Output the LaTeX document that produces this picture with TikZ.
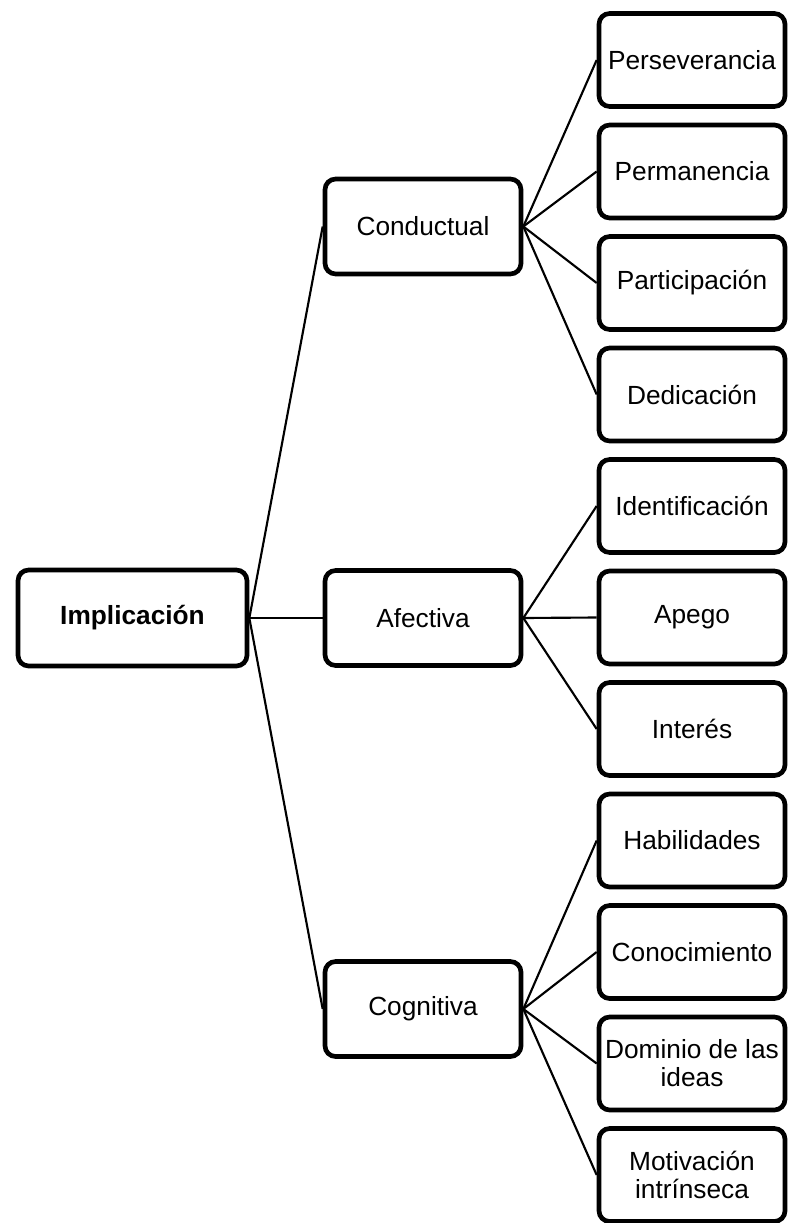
\documentclass[tikz,border=0pt]{standalone}
\usepackage{fontspec}
\setmainfont{Liberation Sans}
\usetikzlibrary{positioning}

\tikzset{
	box/.style={draw=black, line width=3.5pt, rounded corners=8pt, align=center, inner sep=0pt, font=\fontsize{19.7}{21}\selectfont},
	rootbox/.style={box, minimum width=171.75pt, minimum height=72pt, font=\fontsize{19.7}{21}\selectfont\bfseries},
	midbox/.style={box, minimum width=147pt, minimum height=71.25pt},
	leafbox/.style={box, minimum width=139.5pt, minimum height=69.75pt},
	link/.style={line width=1.6pt}
}

\begin{document}
\begin{tikzpicture}[x=0.75pt, y=-0.75pt]
	\useasboundingbox (0,0) rectangle (788,1223);
	% root
	\node[rootbox] (impl) at (132.5,618) {Implicación};
	% dimensions
	\node[midbox] (cond) at (423,226.5) {Conductual};
	\node[midbox] (afec) at (423,618) {Afectiva};
	\node[midbox] (cogn) at (423,1009) {Cognitiva};
	% conductual
	\node[leafbox] (pers) at (692,60) {Perseverancia};
	\node[leafbox] (perm) at (692,171.5) {Permanencia};
	\node[leafbox] (part) at (692,283) {Participación};
	\node[leafbox] (dedi) at (692,394.5) {Dedicación};
	% afectiva
	\node[leafbox] (iden) at (692,506) {Identificación};
	\node[leafbox] (apeg) at (692,617.5) {Apego};
	\node[leafbox] (inte) at (692,729) {Interés};
	% cognitiva
	\node[leafbox] (habi) at (692,840.5) {Habilidades};
	\node[leafbox] (cono) at (692,952) {Conocimiento};
	\node[leafbox] (domi) at (692,1063.5) {Dominio de las\\ideas};
	\node[leafbox] (moti) at (692,1175) {Motivación\\intrínseca};
	% links
	\draw[link] (impl.east) -- (cond.west);
	\draw[link] (impl.east) -- (afec.west);
	\draw[link] (impl.east) -- (cogn.west);
	\draw[link] (cond.east) -- (pers.west);
	\draw[link] (cond.east) -- (perm.west);
	\draw[link] (cond.east) -- (part.west);
	\draw[link] (cond.east) -- (dedi.west);
	\draw[link] (afec.east) -- (iden.west);
	\draw[link] (afec.east) -- (apeg.west);
	\draw[link] (afec.east) -- (inte.west);
	\draw[link] (cogn.east) -- (habi.west);
	\draw[link] (cogn.east) -- (cono.west);
	\draw[link] (cogn.east) -- (domi.west);
	\draw[link] (cogn.east) -- (moti.west);
\end{tikzpicture}
\end{document}
